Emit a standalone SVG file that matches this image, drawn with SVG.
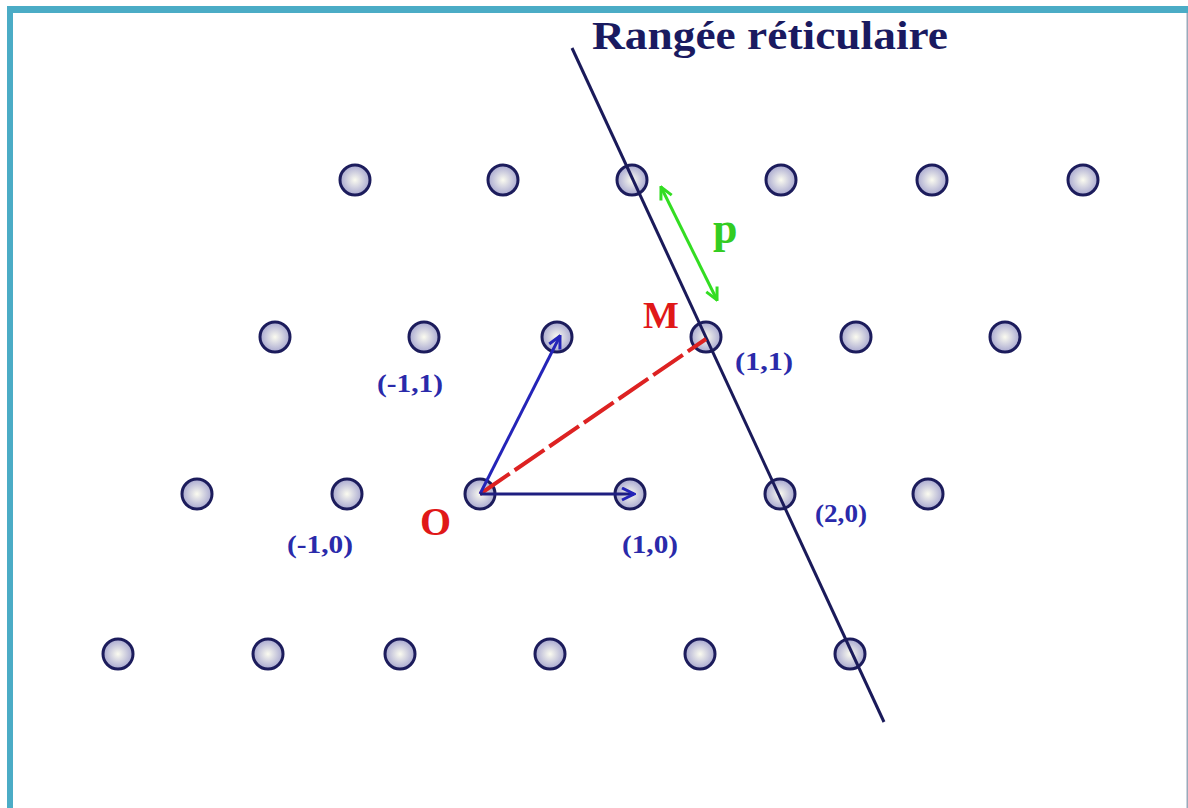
<svg xmlns="http://www.w3.org/2000/svg" width="1188" height="808" viewBox="0 0 1188 808">
<defs>
<radialGradient id="g" cx="0.5" cy="0.5" r="0.5">
<stop offset="0" stop-color="#fbfbf0"/>
<stop offset="1" stop-color="#a8a8d0"/>
</radialGradient>
<marker id="ab" viewBox="0 0 10 10" refX="9" refY="5" markerWidth="5" markerHeight="5" orient="auto-start-reverse" markerUnits="strokeWidth">
<path d="M1,1 L9,5 L1,9" fill="none" stroke="#2424b8" stroke-width="2"/>
</marker>
<marker id="ag" viewBox="0 0 10 10" refX="9" refY="5" markerWidth="5" markerHeight="5" orient="auto-start-reverse" markerUnits="strokeWidth">
<path d="M1,1 L9,5 L1,9" fill="none" stroke="#33dd22" stroke-width="2"/>
</marker>
</defs>
<style>
.n{fill:url(#g);stroke:#1c1c5c;stroke-width:3}
.lb{font-family:"Liberation Serif",serif;font-weight:bold;font-size:26px;fill:#2a2aaa}
.red{font-family:"Liberation Serif",serif;font-weight:bold;fill:#e01818}
</style>
<rect width="1188" height="808" fill="#ffffff"/>
<rect x="7" y="6" width="1181" height="7" fill="#4bacc6"/>
<rect x="7" y="6" width="6" height="802" fill="#4bacc6"/>
<rect x="1186.5" y="13" width="1.5" height="795" fill="#9ab"/>
<text x="592" y="49" font-family="Liberation Serif,serif" font-weight="bold" font-size="40" fill="#1a1a60" textLength="356" lengthAdjust="spacingAndGlyphs">Rangée réticulaire</text>
<g id="nodes">
<g id="r1">
<circle class="n" cx="355" cy="180" r="15"/><circle class="n" cx="503" cy="180" r="15"/><circle class="n" cx="632" cy="180" r="15"/><circle class="n" cx="781" cy="180" r="15"/><circle class="n" cx="932" cy="180" r="15"/><circle class="n" cx="1083" cy="180" r="15"/>
</g>
<g id="r2">
<circle class="n" cx="275" cy="337" r="15"/><circle class="n" cx="424" cy="337" r="15"/><circle class="n" cx="557" cy="337" r="15"/><circle class="n" cx="706" cy="337" r="15"/><circle class="n" cx="856" cy="337" r="15"/><circle class="n" cx="1005" cy="337" r="15"/>
</g>
<g id="r3">
<circle class="n" cx="197" cy="494" r="15"/><circle class="n" cx="347" cy="494" r="15"/><circle class="n" cx="480" cy="494" r="15"/><circle class="n" cx="630" cy="494" r="15"/><circle class="n" cx="780" cy="494" r="15"/><circle class="n" cx="928" cy="494" r="15"/>
</g>
<g id="r4">
<circle class="n" cx="118" cy="654" r="15"/><circle class="n" cx="268" cy="654" r="15"/><circle class="n" cx="400" cy="654" r="15"/><circle class="n" cx="550" cy="654" r="15"/><circle class="n" cx="700" cy="654" r="15"/><circle class="n" cx="850" cy="654" r="15"/>
</g>
</g>
<g id="connectors">
<line x1="572" y1="48" x2="884" y2="722" stroke="#1a1a5a" stroke-width="3"/>
<line x1="480" y1="494" x2="706" y2="339" stroke="#dd2222" stroke-width="4" stroke-dasharray="36 6"/>
<line x1="480" y1="494" x2="560" y2="336" stroke="#2424b8" stroke-width="3" marker-end="url(#ab)"/>
<line x1="480" y1="494" x2="634" y2="494" stroke="#1e1e80" stroke-width="3" marker-end="url(#ab)"/>
<line x1="661" y1="187" x2="717" y2="300" stroke="#33dd22" stroke-width="3" marker-start="url(#ag)" marker-end="url(#ag)"/>
</g>
<g id="labels">
<text class="red" x="713" y="243" font-size="44" style="fill:#33cc22">p</text>
<text class="red" x="643" y="328" font-size="38">M</text>
<text class="red" x="420" y="535" font-size="40">O</text>
<text class="lb" x="377" y="392" textLength="66" lengthAdjust="spacingAndGlyphs">(-1,1)</text>
<text class="lb" x="735" y="370" textLength="58" lengthAdjust="spacingAndGlyphs">(1,1)</text>
<text class="lb" x="815" y="522" textLength="52" lengthAdjust="spacingAndGlyphs">(2,0)</text>
<text class="lb" x="287" y="553" textLength="66" lengthAdjust="spacingAndGlyphs">(-1,0)</text>
<text class="lb" x="622" y="553" textLength="56" lengthAdjust="spacingAndGlyphs">(1,0)</text>
</g>
</svg>
